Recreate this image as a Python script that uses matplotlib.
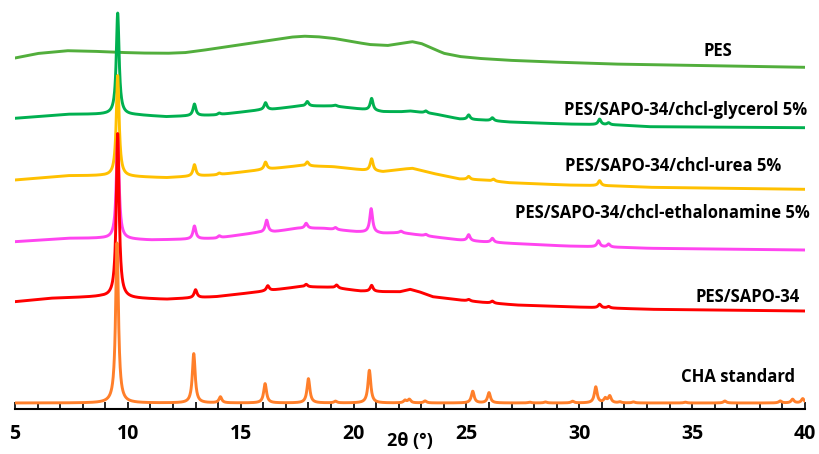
import numpy as np
import matplotlib
matplotlib.use("Agg")
import matplotlib.pyplot as plt
from matplotlib.ticker import MultipleLocator

plt.rcParams['font.family'] = ['Open Sans', 'DejaVu Sans']
plt.rcParams['font.weight'] = 'bold'

# offset baselines (2theta, intensity) and peaks (2theta, height) per sample
pes_bx = [5.0, 6.0, 7.3, 8.4, 9.5, 10.5, 11.7, 12.5, 13.2, 14.3, 15.4, 16.5, 17.2, 17.8, 18.4, 19.1, 19.9, 20.7, 21.5, 22.1, 22.6, 23.0, 23.5, 24.0, 24.7, 25.5, 26.8, 28.4, 31.4, 35.8, 40.0]
pes_by = [351, 355.5, 358.3, 357.8, 356.7, 356, 355.7, 356.3, 358.3, 362, 365.7, 369.5, 371.8, 372.8, 372.3, 370.7, 367.5, 364.5, 363.5, 365.5, 367.3, 365.5, 360.5, 355.7, 352.5, 350.7, 348.8, 347.3, 345, 343.3, 341.7]
pes_px = []
pes_ph = []

gly_bx = [5.0, 7.3, 9.0, 10.4, 11.7, 12.6, 13.9, 15.85, 16.4, 17.6, 19.1, 20.4, 21.3, 22.1, 22.5, 23.6, 24.7, 25.7, 26.9, 29.4, 31.7, 33.1, 40.0]
gly_by = [290.7, 294.7, 294.7, 294, 292.3, 293, 294, 299, 299.7, 303, 303, 299.7, 297.3, 297.3, 298, 295, 290, 289, 287, 285, 284, 282.3, 281.3]
gly_px = [9.55, 12.95, 14.05, 16.1, 17.95, 19.2, 20.8, 23.2, 25.1, 26.15, 30.9, 31.3]
gly_ph = [101.5, 11.7, 1.5, 7, 4.5, 1, 12, 2, 4.5, 3, 5.5, 2]

urea_bx = [5.0, 7.3, 8.8, 10.2, 11.7, 13.9, 15.85, 17.6, 19.1, 20.4, 21.3, 22.1, 22.6, 23.5, 24.7, 25.7, 26.9, 29.4, 31.7, 33.1, 40.0]
urea_by = [229, 233.3, 233.3, 232.3, 231.3, 234, 239, 243.3, 242.3, 239, 237.3, 239.7, 240.7, 235.7, 230, 229, 226.3, 224, 223, 221.7, 219.7]
urea_px = [9.55, 12.95, 14.05, 16.1, 17.95, 20.8, 25.1, 26.2, 30.9]
urea_ph = [100.7, 11.5, 1.5, 7.3, 4, 12, 3, 2, 5]

eth_bx = [5.0, 7.3, 8.8, 11.0, 12.5, 13.9, 15.7, 16.5, 17.5, 18.65, 20.1, 21.3, 22.1, 23.5, 24.7, 25.7, 26.9, 29.4, 32.4, 33.1, 40.0]
eth_by = [167.3, 170.7, 170.7, 169, 169.7, 170.7, 176.3, 177.3, 180.7, 180.7, 177.3, 175.7, 176.3, 172.3, 169, 167.3, 165.7, 163, 161.3, 160.7, 159]
eth_px = [9.55, 12.95, 14.05, 16.15, 17.9, 19.2, 20.78, 22.1, 23.2, 25.1, 26.15, 30.85, 31.3]
eth_ph = [100, 13, 2, 12, 5, 2, 24, 1.5, 1.5, 6, 4, 6, 3]

sapo_bx = [5.0, 6.55, 8.8, 10.2, 11.7, 13.9, 15.85, 17.6, 19.0, 20.3, 21.3, 22.06, 22.5, 22.9, 23.5, 24.7, 25.7, 27.2, 29.4, 31.7, 33.1, 40.0]
sapo_by = [107.3, 110.7, 112.3, 110.7, 109.7, 112.3, 117.3, 122.3, 121.7, 118, 117.3, 117.3, 119.7, 117.3, 112.3, 109, 106.7, 104, 102.3, 100.7, 99.7, 98]
sapo_px = [9.55, 13.0, 16.2, 17.9, 19.25, 20.8, 25.1, 26.15, 30.9, 31.3]
sapo_ph = [164, 8, 5, 2.5, 3, 6, 1.5, 2, 3.5, 1.5]

cha_bx = [5.0, 40.0]
cha_by = [6, 6]
cha_px = [9.52, 12.92, 14.1, 16.08, 18.0, 19.2, 20.7, 22.28, 22.47, 23.17, 25.28, 26.0, 27.8, 28.5, 29.7,
          30.73, 31.15, 31.35, 31.8, 32.4, 34.7, 36.45, 38.9, 39.45, 39.9]
cha_ph = [160, 49.3, 6, 19.3, 24.3, 1.7, 32.7, 2.5, 3.5, 2, 11.7, 10.3, 0.8, 1, 1.7,
          16, 4.3, 6.7, 1, 1, 0.8, 2, 2, 3.7, 4.3]

names = ['PES', 'PES/SAPO-34/chcl-glycerol 5%', 'PES/SAPO-34/chcl-urea 5%',
         'PES/SAPO-34/chcl-ethalonamine 5%', 'PES/SAPO-34', 'CHA standard']
colors = ['#52AE3C', '#00B050', '#FFC000', '#FF45F0', '#FF0000', '#FF7F2A']
label_x = [36.15, 34.69, 34.15, 33.67, 37.48, 37.03]
label_y = [358, 299, 243, 196, 112, 32]

two_theta = np.arange(5.0, 40.0001, 0.01)


def pattern(bx, by, px, ph, hwhm=0.075):
    y = np.interp(two_theta, bx, by)
    for p, h in zip(px, ph):
        y = y + h * hwhm ** 2 / ((two_theta - p) ** 2 + hwhm ** 2)
    return y


samples = [(pes_bx, pes_by, pes_px, pes_ph),
           (gly_bx, gly_by, gly_px, gly_ph),
           (urea_bx, urea_by, urea_px, urea_ph),
           (eth_bx, eth_by, eth_px, eth_ph),
           (sapo_bx, sapo_by, sapo_px, sapo_ph),
           (cha_bx, cha_by, cha_px, cha_ph)]

fig = plt.figure(figsize=(8.19, 4.54), dpi=100)
ax = fig.add_axes([15 / 819, 45 / 454, 790 / 819, 400 / 454])

for (bx, by, px, ph), c in zip(samples, colors):
    ax.plot(two_theta, pattern(bx, by, px, ph), color=c, lw=2.1,
            solid_joinstyle='round', solid_capstyle='round')

for name, tx, ty in zip(names, label_x, label_y):
    ax.text(tx, ty, name, ha='center', va='center', fontsize=12, fontweight='bold')

ax.set_xlim(5, 40)
ax.set_ylim(0, 400)
ax.xaxis.set_major_locator(MultipleLocator(5))
ax.xaxis.set_minor_locator(MultipleLocator(1))
ax.tick_params(axis='x', which='both', direction='in', length=5, width=1.2, pad=11, labelsize=14)
ax.set_yticks([])
for s in ['left', 'right', 'top']:
    ax.spines[s].set_visible(False)
ax.spines['bottom'].set_linewidth(1.5)
ax.set_xlabel('2θ (°)', fontsize=13, fontweight='bold', labelpad=-9)

fig.savefig('out.png', dpi=100)
